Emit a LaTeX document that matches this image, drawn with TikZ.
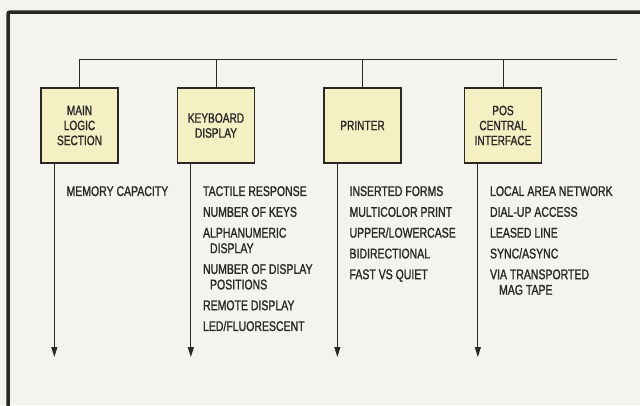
\documentclass[tikz,border=0pt]{standalone}
\usepackage{fontspec}
\setmainfont{Liberation Sans}[FakeStretch=0.75, FakeBold=1.3]
\usepackage{tikz}
\usetikzlibrary{positioning, arrows.meta}

\definecolor{paper}{HTML}{F5F3EE}
\definecolor{unitfill}{HTML}{F4F0C4}
\definecolor{ink}{HTML}{2A2826}

\begin{document}
\begin{tikzpicture}[x=1pt, y=-1pt,
    unit/.style={draw=ink, fill=unitfill, line width=1.3pt, minimum width=77pt,
        minimum height=75pt, align=center, inner sep=0pt, text=ink,
        font=\fontsize{13.5}{15}\selectfont},
    feature/.style={anchor=north west, align=left, inner sep=0pt, text=ink,
        font=\fontsize{14}{15.5}\selectfont},
    wire/.style={draw=ink, line width=1pt},
    flow/.style={wire, -{Triangle[length=10pt, width=6pt]}}]
    % paper
    \fill[paper] (0,0) rectangle (640,405);
    \useasboundingbox (0,0) rectangle (640,405);
    % frame
    \draw[ink, line width=3.5pt, rounded corners=2pt] (8,412) -- (8,12) -- (648,12);
    % units
    \node[unit] (logic) at (79.5,125.5) {MAIN\\LOGIC\\SECTION};
    \node[unit] (kbd) at (216,125.5) {KEYBOARD\\DISPLAY};
    \node[unit] (printer) at (362.5,125.5) {PRINTER};
    \node[unit] (pos) at (503,125.5) {POS\\CENTRAL\\INTERFACE};
    % bus
    \coordinate (busend) at (617,59);
    \draw[wire] (logic.north) |- (busend);
    \foreach \u in {kbd, printer, pos}
        \draw[wire] (\u.north) -- (\u.north |- busend);
    % outputs
    \coordinate (bottom) at (0,357);
    \coordinate (top) at (0,186);
    \foreach \u in {logic, kbd, printer, pos} {
        \coordinate (\u-out) at ([xshift=14pt]\u.south west);
        \draw[flow] (\u-out) -- (\u-out |- bottom);
    }
    % lists
    \node[feature] (memory) at ([xshift=12pt]logic-out |- top) {MEMORY CAPACITY};
    \node[feature] (keys) at ([xshift=12pt]kbd-out |- top)
        {TACTILE RESPONSE\\[5.3pt]NUMBER OF KEYS\\[5.3pt]ALPHANUMERIC\\
         \hspace*{7pt}DISPLAY\\[5.3pt]NUMBER OF DISPLAY\\
         \hspace*{7pt}POSITIONS\\[5.3pt]REMOTE DISPLAY\\[5.3pt]LED/FLUORESCENT};
    \node[feature] (forms) at ([xshift=12pt]printer-out |- top)
        {INSERTED FORMS\\[5.3pt]MULTICOLOR PRINT\\[5.3pt]UPPER/LOWERCASE\\[5.3pt]%
         BIDIRECTIONAL\\[5.3pt]FAST VS QUIET};
    \node[feature] (links) at ([xshift=12pt]pos-out |- top)
        {LOCAL AREA NETWORK\\[5.3pt]DIAL-UP ACCESS\\[5.3pt]LEASED LINE\\[5.3pt]%
         SYNC/ASYNC\\[5.3pt]VIA TRANSPORTED\\\hspace*{9pt}MAG TAPE};
\end{tikzpicture}
\end{document}
